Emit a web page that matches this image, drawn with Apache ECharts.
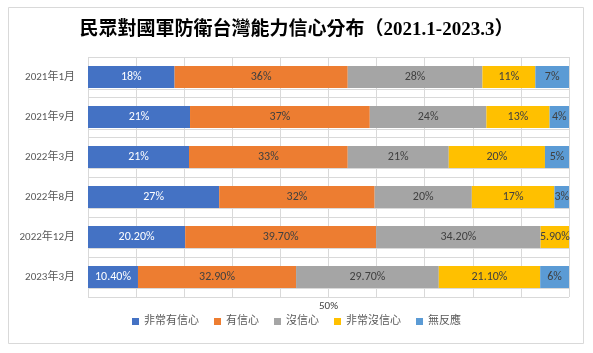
<!DOCTYPE html>
<html><head><meta charset="utf-8">
<script src="https://cdn.jsdelivr.net/npm/echarts@6/dist/echarts.min.js"></script>
<style>html,body{margin:0;padding:0;background:#fff;}#c{width:593px;height:353px;}</style>
</head><body><div id="c"></div>
<script>
var categories = ['2021年1月','2021年9月','2022年3月','2022年8月','2022年12月','2023年3月'];
var seriesNames = ['非常有信心','有信心','沒信心','非常沒信心','無反應'];
var veryConfident = [18, 21, 21, 27, 20.2, 10.4];
var confident     = [36, 37, 33, 32, 39.7, 32.9];
var notConfident  = [28, 24, 21, 20, 34.2, 29.7];
var veryNot       = [11, 13, 20, 17, 5.9, 21.1];
var noResponse    = [7, 4, 5, 3, null, 6];
var labelsVeryConfident = ['18%','21%','21%','27%','20.20%','10.40%'];
var labelsConfident     = ['36%','37%','33%','32%','39.70%','32.90%'];
var labelsNotConfident  = ['28%','24%','21%','20%','34.20%','29.70%'];
var labelsVeryNot       = ['11%','13%','20%','17%','5.90%','21.10%'];
var labelsNoResponse    = ['7%','4%','5%','3%','','6%'];
var xTickLabels = {50: '50%'};

var raw = [veryConfident, confident, notConfident, veryNot, noResponse];
var labs = [labelsVeryConfident, labelsConfident, labelsNotConfident, labelsVeryNot, labelsNoResponse];
var colors = ['#4472C4','#ED7D31','#A5A5A5','#FFC000','#5B9BD5'];
var totals = categories.map(function(_, i){
  var s = 0; raw.forEach(function(a){ s += (a[i] || 0); }); return s;
});
var font = 'Calibri, Carlito, "Liberation Sans", "Noto Sans CJK TC", sans-serif';

var series = raw.map(function(arr, k){
  return {
    name: seriesNames[k], type: 'bar', stack: 'total', barWidth: 22,
    itemStyle: {color: colors[k]},
    xAxisIndex: 0, yAxisIndex: 0,
    label: {
      show: true, position: 'inside', fontFamily: font, fontSize: 12,
      color: k === 0 ? '#ffffff' : '#404040',
      formatter: function(p){ return labs[k][p.dataIndex]; }
    },
    data: arr.map(function(v, i){ return v == null ? null : v / totals[i] * 100; })
  };
});

var chart = echarts.init(document.getElementById('c'), null, {renderer: 'canvas'});
chart.setOption({
  animation: false,
  backgroundColor: '#fff',
  title: {
    text: '民眾對國軍防衛台灣能力信心分布（2021.1-2023.3）',
    left: 'center', top: 16,
    textStyle: {fontFamily: '"Liberation Serif", "Noto Sans CJK TC", serif', fontWeight: 'bold', fontSize: 19, color: '#000'}
  },
  graphic: [{
    type: 'rect', shape: {x: 8.5, y: 7.5, width: 575, height: 336},
    style: {fill: 'none', stroke: '#d9d9d9', lineWidth: 1}, silent: true, z: -1
  }],
  legend: {
    data: seriesNames, bottom: 21, left: 'center',
    itemWidth: 7, itemHeight: 7, itemGap: 15, icon: 'rect',
    textStyle: {fontFamily: font, fontSize: 11, color: '#595959'}
  },
  grid: [
    {left: 88, right: 24, top: 57, bottom: 56},
    {left: 88, right: 24, top: 89, bottom: 65}
  ],
  xAxis: [{
    type: 'value', gridIndex: 0, min: 0, max: 100, interval: 10,
    axisLine: {show: false}, axisTick: {show: false},
    splitLine: {show: true, lineStyle: {color: '#d9d9d9'}},
    axisLabel: {fontFamily: font, fontSize: 11, color: '#404040', margin: 4,
      formatter: function(v){ return xTickLabels[v] || ''; }}
  }, {
    type: 'value', gridIndex: 1, min: 0, max: 100, show: false
  }],
  yAxis: [{
    type: 'category', gridIndex: 0, data: categories, inverse: true,
    axisLine: {show: false}, axisTick: {show: false},
    splitLine: {show: true, lineStyle: {color: '#d9d9d9'}},
    axisLabel: {fontFamily: font, fontSize: 11, color: '#595959', margin: 13}
  }, {
    type: 'value', gridIndex: 1, min: 0, max: 5, interval: 1,
    axisLine: {show: false}, axisTick: {show: false}, axisLabel: {show: false},
    splitLine: {show: true, lineStyle: {color: '#d9d9d9'}}
  }],
  series: series
});
</script>
</body></html>
